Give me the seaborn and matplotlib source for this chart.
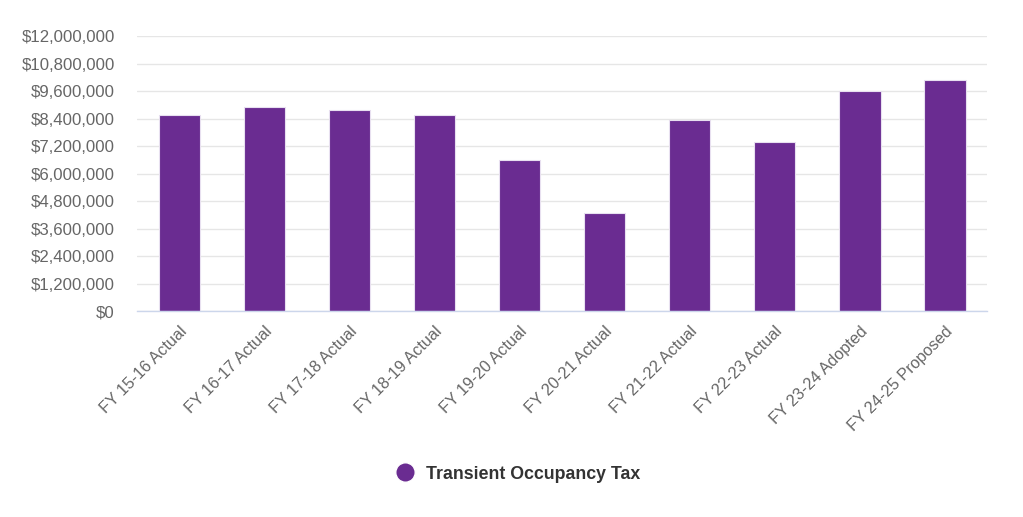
import matplotlib
matplotlib.use("Agg")
import matplotlib.pyplot as plt
import seaborn as sns
import pandas as pd
from matplotlib.lines import Line2D
from matplotlib.ticker import FuncFormatter, MultipleLocator

categories = ["FY 15-16 Actual", "FY 16-17 Actual", "FY 17-18 Actual", "FY 18-19 Actual",
              "FY 19-20 Actual", "FY 20-21 Actual", "FY 21-22 Actual", "FY 22-23 Actual",
              "FY 23-24 Adopted", "FY 24-25 Proposed"]
values = [8580000, 8900000, 8790000, 8580000, 6580000, 4280000, 8330000, 7380000, 9590000, 10080000]
series_name = "Transient Occupancy Tax"

df = pd.DataFrame({"cat": categories, "val": values})

sns.set_style("white")
plt.rcParams['font.family'] = ['Liberation Sans', 'DejaVu Sans']

fig = plt.figure(figsize=(10.23, 5.17), dpi=100)
ax = fig.add_axes([0.134, 0.398, 0.831, 0.532])
color = "#6A2C91"
sns.barplot(data=df, x="cat", y="val", color=color, width=0.49, ax=ax,
            edgecolor="#e8e0f0", linewidth=0.8, saturation=1)

ax.set_ylim(0, 12000000)
ax.yaxis.set_major_locator(MultipleLocator(1200000))
ax.yaxis.set_major_formatter(FuncFormatter(lambda v, p: "${:,.0f}".format(v)))
ax.set_xlim(-0.5, len(categories) - 0.5)
ax.grid(axis="y", color="#e6e6e6", linewidth=1)
ax.set_axisbelow(True)
for s in ["top", "right", "left"]:
    ax.spines[s].set_visible(False)
ax.spines["bottom"].set_color("#ccd6eb")
ax.spines["bottom"].set_linewidth(1)
ax.set_xlabel("")
ax.set_ylabel("")
ax.tick_params(axis="y", length=0, labelsize=12.1, labelcolor="#666666", pad=16)
ax.tick_params(axis="x", length=0, labelsize=11.7, labelcolor="#666666", pad=9)
plt.setp(ax.get_xticklabels(), rotation=45, ha="right", rotation_mode="anchor")

handle = Line2D([0], [0], marker="o", color="w", markerfacecolor=color,
                markersize=14, linewidth=0)
fig.legend([handle], [series_name], loc="center", bbox_to_anchor=(0.502, 0.083),
           frameon=False, prop={"weight": "bold", "size": 12.8}, handletextpad=0.2,
           labelcolor="#333333")

fig.savefig("out.png", dpi=100)
